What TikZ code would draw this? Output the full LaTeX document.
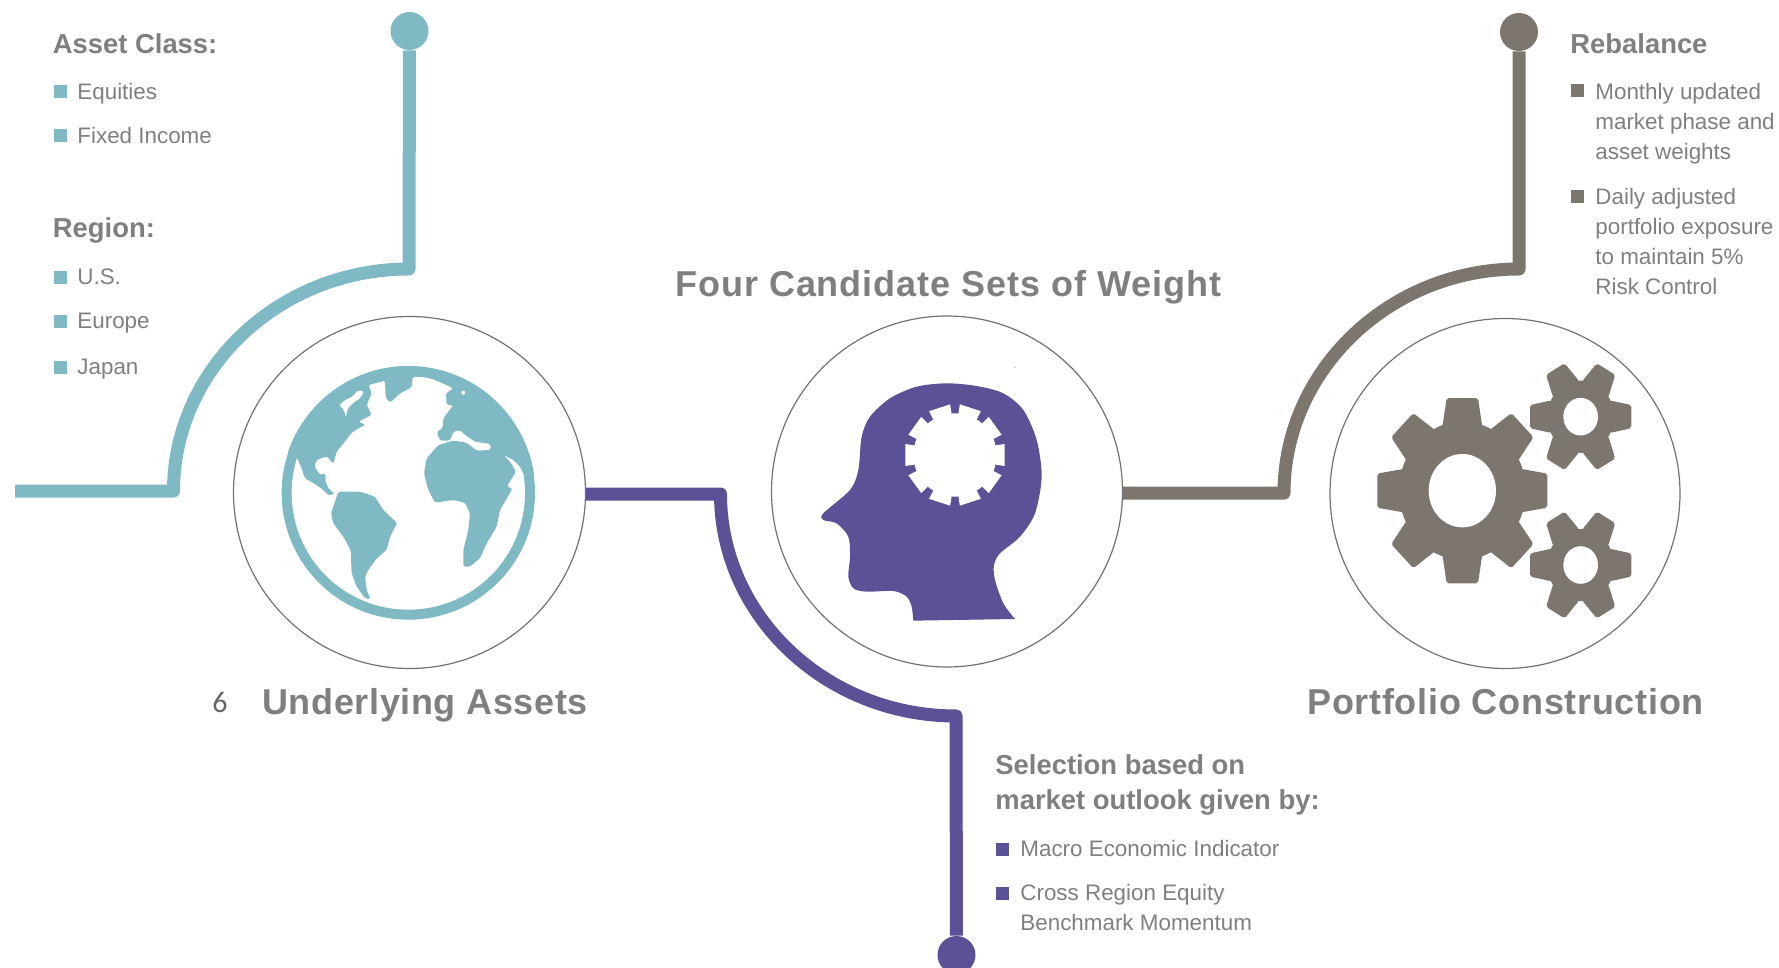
\documentclass[tikz,border=0pt]{standalone}
\usepackage{fontspec}
\setmainfont{Liberation Sans}
\newfontfamily\bigheadA[LetterSpace=2.6]{Liberation Sans Bold}
\newfontfamily\bigheadB[LetterSpace=1.7]{Liberation Sans Bold}
\newfontfamily\bigheadC[LetterSpace=2]{Liberation Sans Bold}
\newfontfamily\pagenum{Carlito}
\definecolor{tealc}{HTML}{7FB9C4}
\definecolor{purplec}{HTML}{5B5197}
\definecolor{grayc}{HTML}{7D766E}
\definecolor{textc}{HTML}{7F7F7F}
\tikzset{
  ring/.style={circle,draw=textc!90!black,line width=.6pt,minimum size=#1,inner sep=0pt,fill=white},
  dotn/.style={circle,fill=#1,minimum size=19pt,inner sep=0pt},
  conn/.style={draw=#1,line width=6.5pt,line join=round},
  sq/.style={rectangle,fill=#1,minimum size=6.5pt,inner sep=0pt},
  subhead/.style={anchor=base west,inner sep=0pt,text=textc,font=\fontsize{13.7}{17.5}\selectfont\bfseries,align=left},
  item/.style={anchor=base west,inner sep=0pt,text=textc,font=\fontsize{11.2}{15}\selectfont,align=left},
  title/.style={anchor=base west,inner sep=0pt,text=textc,font=\fontsize{18}{22}\selectfont#1},
}
\newcommand{\geartooth}[6]{% color, count step, r base, r tip, half base, half tip
  \foreach \a in {0,#2,...,359}{
    \fill[#1,rotate=\a,rounded corners=1pt] (#3,-#5) -- (#4,-#6) -- (#4,#6) -- (#3,#5) -- cycle;
  }
}
\begin{document}
\begin{tikzpicture}[x=.5pt,y=-.5pt]
\clip (0,0) rectangle (1779,968);
% rings
\node[ring=176pt] (ringA) at (409.5,492.5) {};
\node[ring=175.5pt] (ringB) at (947,491.5) {};
\node[ring=175pt] (ringC) at (1505,493.5) {};
% dots and free ends
\node[dotn=tealc] (dotA) at (409.5,31) {};
\node[dotn=purplec] (dotB) at (956.5,955) {};
\node[dotn=grayc] (dotC) at (1519,32) {};
\coordinate (startA) at (15,491);
\coordinate (kneeA) at (173.5,491);
\coordinate (cornerA) at (409,269);
\coordinate (kneeB) at (720.5,494);
\coordinate (cornerB) at (956,716);
\coordinate (kneeC) at (1284,493);
\coordinate (cornerC) at (1519,269);
% connectors
\draw[conn=tealc] (startA) -- (kneeA) .. controls (173.5,369) and (279,269) .. (cornerA) -- (dotA);
\draw[conn=purplec] (ringA.east |- kneeB) -- (kneeB) .. controls (720.5,616) and (826,716) .. (cornerB) -- (dotB);
\draw[conn=grayc] (ringB.east |- kneeC) -- (kneeC) .. controls (1284,370) and (1390,269) .. (cornerC) -- (dotC);
% globe
\begin{scope}[shift={(220,310)},scale=1/3]
\fill[tealc] (565,549) circle [radius=380];
\fill[white] (565,549) circle [radius=350];
\begin{scope}
\clip (565,549) circle [radius=381];
\fill[tealc,rounded corners=1.2pt] (225,430) -- (232,445) -- (245,475) -- (255,505) -- (285,522) -- (310,540) -- (325,556) -- (345,552) -- (325,535) -- (315,510) -- (318,490) -- (300,495) -- (283,470) -- (290,450) -- (320,438) -- (340,462) -- (350,425) -- (372,398) -- (395,368) -- (420,352) -- (437,345) -- (415,335) -- (455,315) -- (440,285) -- (455,250) -- (445,225) -- (495,212) -- (497,262) -- (510,278) -- (540,250) -- (575,232) -- (578,200) -- (620,200) -- (680,225) -- (700,235) -- (678,250) -- (680,285) -- (700,285) -- (670,325) -- (668,355) -- (650,365) -- (660,392) -- (690,392) -- (700,365) -- (720,360) -- (735,375) -- (765,395) -- (812,402) -- (812,420) -- (770,422) -- (740,398) -- (700,392) -- (655,405) -- (620,445) -- (612,490) -- (625,540) -- (645,578) -- (700,570) -- (735,578) -- (750,610) -- (745,660) -- (730,720) -- (730,770) -- (750,770) -- (780,745) -- (800,700) -- (830,650) -- (840,600) -- (878,535) -- (860,530) -- (888,485) -- (868,452) -- (850,435) -- (880,450) -- (900,470) -- (915,500) -- (1000,500) -- (1000,100) -- (100,100) -- (100,430) -- cycle;
\fill[tealc,rounded corners=1.2pt] (345,575) -- (355,545) -- (420,545) -- (465,560) -- (490,600) -- (532,640) -- (510,680) -- (500,720) -- (470,745) -- (445,780) -- (435,800) -- (440,840) -- (452,868) -- (435,865) -- (410,830) -- (395,790) -- (392,720) -- (370,680) -- (340,640) -- (333,610) -- cycle;
\fill[white,rounded corners=1pt] (358,285) -- (375,270) -- (395,262) -- (415,240) -- (432,245) -- (420,265) -- (398,280) -- (382,298) -- (378,322) -- (372,300) -- cycle;
\fill[white] (730,248) circle [radius=6];
\end{scope}
\end{scope}
% head
\begin{scope}[shift={(770,310)},scale=1/3]
\fill[purplec] plot[smooth,tension=.5] coordinates {(735,927) (700,880) (675,810) (672,765) (690,730) (750,680) (795,610) (815,500) (800,390) (760,300) (700,250) (620,228) (530,220) (440,230) (360,265) (300,320) (275,380) (265,480) (240,540) (160,610) (160,630) (200,640) (235,680) (240,740) (235,800) (250,835) (290,845) (370,843) (410,860) (425,890) (430,932)} -- cycle;
\begin{scope}[shift={(555,435)}]
\fill[white] (0,0) circle [radius=125];
\foreach \a in {0,36,...,359}{
  \fill[white,rotate=\a] (122,-29) -- (149,-33) -- (149,33) -- (122,29) -- cycle;
}
\end{scope}
\fill[tealc!60] (735,172) circle [radius=3];
\end{scope}
% gears
\begin{scope}[shift={(1330,310)},scale=1/3]
\begin{scope}[shift={(397,542)},yscale=1.09]
\fill[grayc] (0,0) circle [radius=190];
\geartooth{grayc}{45}{175}{255}{60}{47}
\fill[white] (0,0) circle [radius=101];
\end{scope}
\begin{scope}[shift={(752,320)},yscale=1.085]
\fill[grayc] (0,0) circle [radius=100];
\geartooth{grayc}{60}{88}{152}{45}{32}
\fill[white] (0,0) circle [radius=52];
\end{scope}
\begin{scope}[shift={(752,765)},yscale=1.085]
\fill[grayc] (0,0) circle [radius=100];
\geartooth{grayc}{60}{88}{152}{45}{32}
\fill[white] (0,0) circle [radius=52];
\end{scope}
\end{scope}
% left text
\node[subhead] (assetclass) at (52.5,53.3) {Asset Class:};
\node[sq=tealc] (b1) at (60.7,91.7) {};
\node[item] (equities) at (77,99.3) {Equities};
\node[sq=tealc] (b2) at (60.7,135.3) {};
\node[item] (fixed) at (77,143.3) {Fixed Income};
\node[subhead] (region) at (52.5,237.7) {Region:};
\node[sq=tealc] (b3) at (60.7,277.3) {};
\node[item] (us) at (77,285) {U.S.};
\node[sq=tealc] (b4) at (60.7,321.7) {};
\node[item] (europe) at (77,329) {Europe};
\node[sq=tealc] (b5) at (60.7,367.7) {};
\node[item] (japan) at (77,375) {Japan};
% right text
\node[subhead] (rebal) at (1570,53.3) {Rebalance};
\node[sq=grayc] (b6) at (1577.5,91) {};
\node[item] (monthly) at (1595,159.3) {Monthly updated\\market phase and\\asset weights};
\node[sq=grayc] (b7) at (1577.5,196.7) {};
\node[item] (daily) at (1595,294.6) {Daily adjusted\\portfolio exposure\\to maintain 5\%\\Risk Control};
% bottom text
\node[subhead] (selection) at (995,809) {Selection based on\\market outlook given by:};
\node[sq=purplec] (b8) at (1002.3,849.5) {};
\node[item] (macro) at (1020,856.3) {Macro Economic Indicator};
\node[sq=purplec] (b9) at (1002.3,893) {};
\node[item] (cross) at (1020,930) {Cross Region Equity\\Benchmark Momentum};
% titles
\node[title=\bigheadA] (four) at (675,296.5) {Four Candidate Sets of Weight};
\node[title=\bigheadB] (under) at (262,714) {Underlying Assets};
\node[title=\bigheadC] (port) at (1307,714) {Portfolio Construction};
\node[anchor=base west,inner sep=0pt,text=black!60,font=\fontsize{15}{18}\selectfont\pagenum] (pg) at (212,712) {6};
\end{tikzpicture}
\end{document}
